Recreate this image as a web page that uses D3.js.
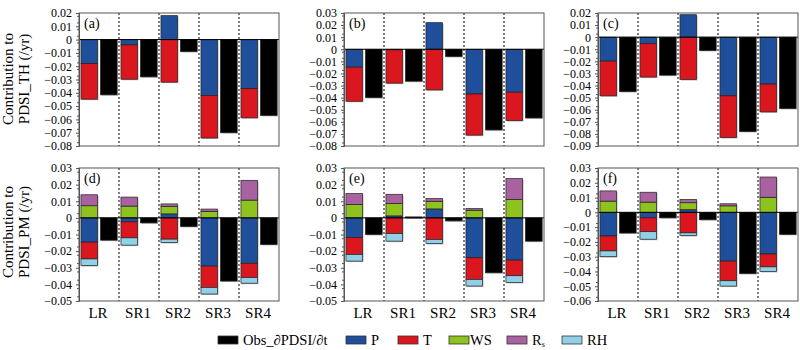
<!DOCTYPE html>
<html lang="en">
  <head>
    <meta charset="UTF-8" />
    <title>PDSI contributions</title>
    <style>
      body { margin: 0; background: #fff; }
      text { font-family: 'Liberation Serif', 'Times New Roman', Times, serif; fill: #000; }
    </style>
  </head>
  <body>
    <svg id="svg" width="800" height="350"></svg>
    <script src="https://cdn.jsdelivr.net/npm/d3@7"></script>
    <script>
      const categories = ['LR', 'SR1', 'SR2', 'SR3', 'SR4']
      const panelNames = ['(a)', '(b)', '(c)', '(d)', '(e)', '(f)']
      const yDomains = [[-0.08, 0.02], [-0.08, 0.03], [-0.09, 0.02], [-0.05, 0.03], [-0.05, 0.03], [-0.06, 0.03]]

      // one row per panel (a..f), one value per category
      const obs = [
        [-0.0415, -0.028, -0.009, -0.070, -0.057],
        [-0.040, -0.0264, -0.006, -0.0667, -0.0568],
        [-0.045, -0.0314, -0.011, -0.078, -0.059],
        [-0.0134, -0.003, -0.0052, -0.038, -0.016],
        [-0.010, 0.0006, -0.0018, -0.033, -0.014],
        [-0.014, -0.0037, -0.005, -0.0414, -0.0149]
      ]
      const P = [
        [-0.018, -0.004, 0.018, -0.042, -0.0368],
        [-0.0148, -0.0005, 0.022, -0.037, -0.0355],
        [-0.0198, -0.0054, 0.0186, -0.0485, -0.0388],
        [-0.0146, -0.0024, 0.0024, -0.029, -0.0273],
        [-0.0118, 0.0012, 0.0054, -0.024, -0.0254],
        [-0.016, -0.0037, 0.0018, -0.033, -0.0282]
      ]
      const T = [
        [-0.0268, -0.0258, -0.032, -0.032, -0.022],
        [-0.0282, -0.0275, -0.0336, -0.034, -0.0235],
        [-0.0287, -0.0276, -0.035, -0.0345, -0.023],
        [-0.0101, -0.0096, -0.0128, -0.0128, -0.0086],
        [-0.0102, -0.0094, -0.013, -0.013, -0.0094],
        [-0.0101, -0.0094, -0.0139, -0.0133, -0.0087]
      ]
      const WS = [
        [0, 0, 0, 0, 0],
        [0, 0, 0, 0, 0],
        [0, 0, 0, 0, 0],
        [0.0073, 0.0071, 0.0044, 0.0039, 0.0107],
        [0.008, 0.0074, 0.0046, 0.0046, 0.011],
        [0.0076, 0.0069, 0.0047, 0.0044, 0.0102]
      ]
      const Rs = [
        [0, 0, 0, 0, 0],
        [0, 0, 0, 0, 0],
        [0, 0, 0, 0, 0],
        [0.0066, 0.0054, 0.0016, 0.0014, 0.0119],
        [0.0066, 0.0056, 0.0016, 0.001, 0.0126],
        [0.0069, 0.0067, 0.0022, 0.0014, 0.0137]
      ]
      const RH = [
        [0, 0, 0, 0, 0],
        [0, 0, 0, 0, 0],
        [0, 0, 0, 0, 0],
        [-0.004, -0.0044, -0.002, -0.004, -0.0034],
        [-0.004, -0.0046, -0.0024, -0.004, -0.004],
        [-0.0039, -0.0051, -0.0018, -0.0036, -0.0031]
      ]

      const keys = ['P', 'T', 'WS', 'Rs', 'RH']
      const series = { P, T, WS, Rs, RH }
      const colors = { Obs: '#000000', P: '#1f4e9b', T: '#da161f', WS: '#8dc21f', Rs: '#a8629f', RH: '#92d0e7' }
      const serif = "'Liberation Serif', 'Times New Roman', Times, serif"

      const svg = d3.select('#svg')
      const colX = [79, 344, 598]
      const rowY = [[13, 146], [168, 301]]
      const panelW = 200

      panelNames.forEach((name, pi) => {
        const col = pi % 3
        const row = Math.floor(pi / 3)
        const x0 = colX[col]
        const [top, bottom] = rowY[row]

        const x = d3.scaleBand().domain(categories).range([x0, x0 + panelW])
        const xInner = d3.scaleBand().domain(['stack', 'obs']).range([0, x.bandwidth()])
          .paddingInner(0.15).paddingOuter(0.1)
        const y = d3.scaleLinear().domain(yDomains[pi]).range([bottom, top])

        const g = svg.append('g')

        // stacked contributions, positives and negatives stacked apart
        const rows = categories.map((c, i) => {
          const r = { cat: c }
          keys.forEach(k => { r[k] = series[k][pi][i] })
          return r
        })
        const stacked = d3.stack().keys(keys).offset(d3.stackOffsetDiverging)(rows)

        const segs = []
        stacked.forEach(layer => {
          layer.forEach(d => {
            if (d[1] - d[0] !== 0) segs.push({ key: layer.key, cat: d.data.cat, y0: d[0], y1: d[1] })
          })
        })
        categories.forEach((c, i) => {
          segs.push({ key: 'Obs', cat: c, y0: Math.min(0, obs[pi][i]), y1: Math.max(0, obs[pi][i]) })
        })

        const bx = d => x(d.cat) + (d.key === 'Obs' ? xInner('obs') : xInner('stack'))

        // soft shadow
        g.selectAll('rect.shadow').data(segs).join('rect')
          .attr('class', 'shadow')
          .attr('x', d => bx(d) + 1)
          .attr('y', d => y(d.y1) + 1)
          .attr('width', xInner.bandwidth())
          .attr('height', d => y(d.y0) - y(d.y1))
          .attr('fill', '#b8b8b8')

        g.selectAll('rect.bar').data(segs).join('rect')
          .attr('class', 'bar')
          .attr('x', bx)
          .attr('y', d => y(d.y1))
          .attr('width', xInner.bandwidth())
          .attr('height', d => y(d.y0) - y(d.y1))
          .attr('fill', d => colors[d.key])
          .attr('stroke', '#222')
          .attr('stroke-width', 0.7)

        // dashed separators between regions
        g.selectAll('line.sep').data(categories.slice(1)).join('line')
          .attr('class', 'sep')
          .attr('x1', d => x(d)).attr('x2', d => x(d))
          .attr('y1', top).attr('y2', bottom)
          .attr('stroke', '#000')
          .attr('stroke-width', 1)
          .attr('stroke-dasharray', '2,2')

        // zero line
        g.append('line')
          .attr('x1', x0).attr('x2', x0 + panelW)
          .attr('y1', y(0)).attr('y2', y(0))
          .attr('stroke', '#000')
          .attr('stroke-width', 1)

        // frame
        g.append('rect')
          .attr('x', x0).attr('y', top)
          .attr('width', panelW).attr('height', bottom - top)
          .attr('fill', 'none')
          .attr('stroke', '#555')
          .attr('stroke-width', 1)

        // y axis
        const [lo, hi] = yDomains[pi]
        const major = d3.range(Math.round(lo * 100), Math.round(hi * 100) + 1).map(v => v / 100)
        const minor = d3.range(Math.round(lo * 200), Math.round(hi * 200)).map(v => (v + 0.5) / 200)
        const yAxis = d3.axisLeft(y)
          .tickValues(major)
          .tickSize(3)
          .tickPadding(4)
          .tickFormat(d => (Math.abs(d) < 1e-9 ? '0' : d3.format('.2f')(d).replace('-', '−')))
        const ax = g.append('g').attr('transform', `translate(${x0},0)`).call(yAxis)
        ax.attr('font-family', serif)
        ax.select('.domain').attr('stroke', '#555')
        ax.selectAll('.tick line').attr('stroke', '#555')
        ax.selectAll('text').style('font-family', serif).style('font-size', '12px')
        ax.selectAll('line.minor').data(minor).join('line')
          .attr('class', 'minor')
          .attr('x1', -2).attr('x2', 0)
          .attr('y1', d => y(d)).attr('y2', d => y(d))
          .attr('stroke', '#555')

        // panel tag
        g.append('text')
          .attr('x', x0 + 5).attr('y', top + 15)
          .style('font-size', '14px')
          .text(name)

        // category labels on bottom row
        if (row === 1) {
          g.selectAll('text.cat').data(categories).join('text')
            .attr('class', 'cat')
            .attr('x', d => x(d) + x.bandwidth() / 2 - 1)
            .attr('y', 318)
            .attr('text-anchor', 'middle')
            .style('font-size', '15px')
            .text(d => d)
        }
      })

      // y titles
      const yTitles = [['Contribution to', 'PDSI_TH (/yr)', 79], ['Contribution to', 'PDSI_PM (/yr)', 232]]
      yTitles.forEach(([l1, l2, cy]) => {
        svg.append('text')
          .attr('transform', `translate(13,${cy}) rotate(-90)`)
          .attr('text-anchor', 'middle')
          .style('font-size', '15px')
          .text(l1)
        svg.append('text')
          .attr('transform', `translate(29,${cy}) rotate(-90)`)
          .attr('text-anchor', 'middle')
          .style('font-size', '15px')
          .text(l2)
      })

      // legend
      const legendItems = [
        { key: 'Obs', x: 218, label: 'Obs_∂PDSI/∂t' },
        { key: 'P', x: 346, label: 'P' },
        { key: 'T', x: 398, label: 'T' },
        { key: 'WS', x: 449, label: 'WS' },
        { key: 'Rs', x: 507, label: 'R' },
        { key: 'RH', x: 562, label: 'RH' }
      ]
      const lg = svg.append('g')
      lg.selectAll('rect').data(legendItems).join('rect')
        .attr('x', d => d.x).attr('y', 336)
        .attr('width', 20).attr('height', 8)
        .attr('fill', d => colors[d.key])
        .attr('stroke', '#333')
        .attr('stroke-width', 0.8)
      const lt = lg.selectAll('text').data(legendItems).join('text')
        .attr('x', d => d.x + (d.key === 'WS' ? 21 : 25))
        .attr('y', 345)
        .style('font-size', '14.5px')
        .text(d => d.label)
      lt.filter(d => d.key === 'Rs').append('tspan')
        .style('font-size', '8px')
        .attr('dy', 2)
        .text('s')
    </script>
  </body>
</html>
